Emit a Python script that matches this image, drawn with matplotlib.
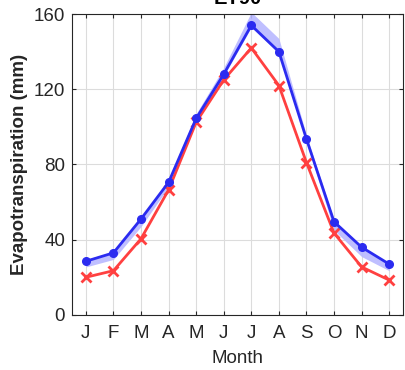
import matplotlib.pyplot as plt
import numpy as np

months = ["J", "F", "M", "A", "M", "J", "J", "A", "S", "O", "N", "D"]
et_blue = [28.5, 33, 51, 70.5, 104.5, 128, 154, 140, 93.5, 49.5, 36, 27]
et_red = [20, 23.5, 40.5, 66.5, 102.5, 125, 142, 122, 81, 43.5, 25.5, 18.5]
band_lo = [25.5, 29.5, 47, 68, 103, 127, 153, 139, 92, 45, 31, 23.5]
band_hi = [29.5, 33.5, 51.5, 72, 107, 131.5, 161, 147, 95.5, 50.5, 36.5, 27.5]

plt.rcParams["font.family"] = ["Liberation Sans", "DejaVu Sans"]

x = np.arange(1, 13)
fig = plt.figure(figsize=(4.05, 3.7), dpi=100)
ax = fig.add_axes([0.178, 0.149, 0.817, 0.813])

ax.fill_between(x, band_lo, band_hi, color="#b8b8ff", lw=0, alpha=0.9, zorder=2)
ax.plot(x, et_blue, "-o", color="#2b2bf0", lw=2, ms=5.5, zorder=4)
ax.plot(x, et_red, "-x", color="#ff4040", lw=2, ms=6.5, mew=2, zorder=3)

ax.set_xlim(0.5, 12.5)
ax.set_ylim(0, 160)
ax.set_xticks(x)
ax.set_xticklabels(months)
ax.set_yticks([0, 40, 80, 120, 160])
ax.grid(True, color="#dcdcdc", lw=0.8, zorder=0)
ax.set_axisbelow(True)
ax.tick_params(direction="in", length=3, top=True, right=True, labelsize=13.5,
               colors="#262626", width=0.8)
ax.tick_params(axis="x", pad=7)
ax.tick_params(axis="y", pad=5)
for s in ax.spines.values():
    s.set_color("#262626")
    s.set_linewidth(0.8)

ax.set_xlabel("Month", fontsize=13.5, color="#262626", labelpad=6)
ax.set_ylabel("Evapotranspiration (mm)", fontsize=13.5, fontweight="bold",
              color="#262626", labelpad=4)
ax.set_title("ET90", fontsize=14.5, fontweight="bold", pad=7)

fig.savefig("out.png", dpi=100)
